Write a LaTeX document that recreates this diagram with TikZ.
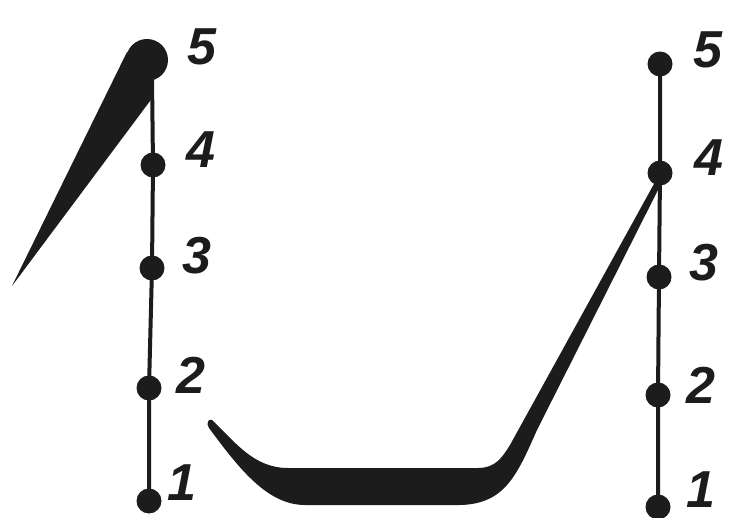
\documentclass[tikz,border=0pt]{standalone}
\usepackage{fontspec}
\setmainfont{Liberation Sans}
\definecolor{ink}{RGB}{28,28,28}
\begin{document}
\begin{tikzpicture}[x=1pt,y=-1pt,
  dot/.style={circle,fill=ink,inner sep=0pt,minimum size=25pt},
  blob/.style={circle,fill=ink,inner sep=0pt,minimum size=42pt},
  lbl/.style={font=\fontsize{52}{52}\selectfont\bfseries\itshape,inner sep=0pt,text=ink},
  stem/.style={draw=ink,line width=4pt}]
\useasboundingbox[fill=white] (0,0) rectangle (731,518);
% left column
\node[blob] (a5) at (147,60) {};
\coordinate (a5s) at (152,78);
\node[dot] (a4) at (153,165) {};
\node[dot] (a3) at (152,268) {};
\node[dot] (a2) at (149,388) {};
\node[dot] (a1) at (149,501) {};
\draw[stem] (a5s) -- (a4.center) -- (a3.center) -- (a2.center) -- (a1.center);
\fill[ink] (12,286) -- (127,52) -- (a5.center) -- (153,97) -- cycle;
% right column
\node[dot] (b5) at (660,64) {};
\node[dot] (b4) at (660,173) {};
\node[dot] (b3) at (659,277) {};
\node[dot] (b2) at (658,395) {};
\node[dot] (b1) at (658,507) {};
\draw[stem] (b5.center) -- (b4.center) -- (b3.center) -- (b2.center) -- (b1.center);
% bottom brush stroke
\fill[ink] (212,420) .. controls (236,443) and (254,468) .. (288,468)
  -- (478,468) .. controls (495,468) and (502,458) .. (510,445)
  -- (b4.center) -- (662,182)
  -- (537,430) .. controls (517,475) and (505,504) .. (460,505)
  -- (305,505) .. controls (268,505) and (240,470) .. (209,428)
  .. controls (206,424) and (208,418) .. (212,420) -- cycle;
% labels
\node[lbl] (la5) at (202,47) {5};
\node[lbl] (la4) at (201,150) {4};
\node[lbl] (la3) at (197,256) {3};
\node[lbl] (la2) at (191,375) {2};
\node[lbl] (la1) at (182,483) {1};
\node[lbl] (lb5) at (708,50) {5};
\node[lbl] (lb4) at (709,158) {4};
\node[lbl] (lb3) at (704,263) {3};
\node[lbl] (lb2) at (701,385) {2};
\node[lbl] (lb1) at (701,490) {1};
\end{tikzpicture}
\end{document}
